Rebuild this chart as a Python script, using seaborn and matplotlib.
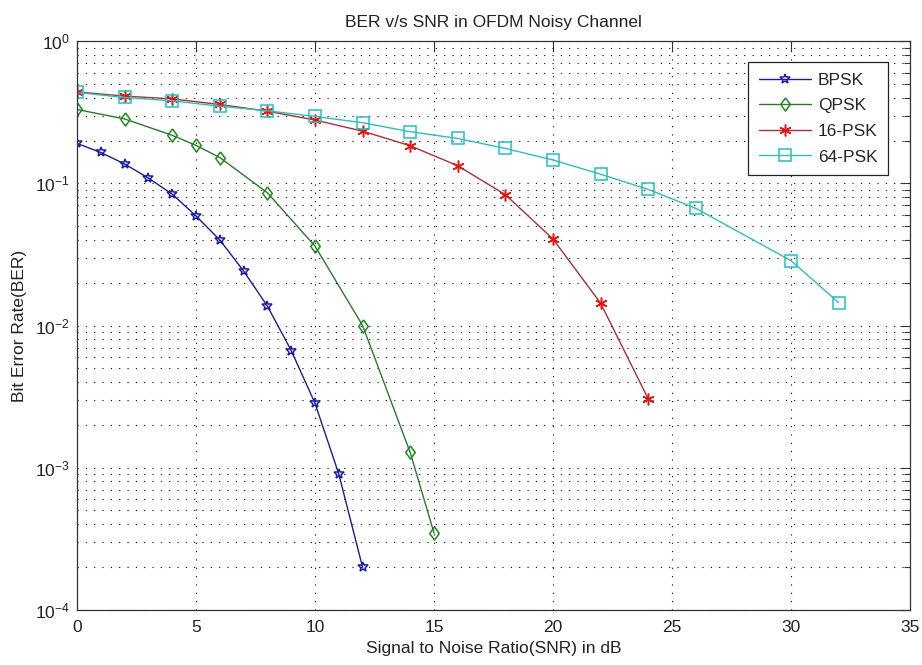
import numpy as np
import pandas as pd
import matplotlib
matplotlib.use("Agg")
import matplotlib.pyplot as plt
from matplotlib.ticker import LogLocator, FixedLocator, NullFormatter
import seaborn as sns

# SNR points (dB) and measured bit error rates for each modulation
snr_bpsk = [0, 1, 2, 3, 4, 5, 6, 7, 8, 9, 10, 11, 12]
ber_bpsk = [0.191, 0.165, 0.137, 0.109, 0.084, 0.059, 0.040, 0.0242,
            0.0137, 0.00667, 0.00284, 0.000902, 0.000199]

snr_qpsk = [0, 2, 4, 5, 6, 8, 10, 12, 14, 15]
ber_qpsk = [0.331, 0.284, 0.218, 0.185, 0.152, 0.0859, 0.0362, 0.0100,
            0.00128, 0.000347]

snr_16psk = [0, 2, 4, 6, 8, 10, 12, 14, 16, 18, 20, 22, 24]
ber_16psk = [0.440, 0.411, 0.393, 0.359, 0.322, 0.279, 0.233, 0.184,
             0.133, 0.0832, 0.0406, 0.01435, 0.00305]

snr_64psk = [0, 2, 4, 6, 8, 10, 12, 14, 16, 18, 20, 22, 24, 26, 30, 32]
ber_64psk = [0.436, 0.402, 0.381, 0.349, 0.324, 0.296, 0.267, 0.231,
             0.207, 0.176, 0.146, 0.116, 0.0907, 0.0667, 0.0286, 0.0145]

labels = ["BPSK", "QPSK", "16-PSK", "64-PSK"]
x_ticks = [0, 5, 10, 15, 20, 25, 30, 35]

sns.set_style("white")
plt.rcParams["font.family"] = ["Liberation Sans", "DejaVu Sans"]
plt.rcParams["mathtext.fontset"] = "custom"
plt.rcParams["mathtext.rm"] = "Liberation Sans"
plt.rcParams["mathtext.it"] = "Liberation Sans"

fig = plt.figure(figsize=(9.22, 6.65), dpi=100)
ax = fig.add_axes([0.0835, 0.083, 0.9035, 0.855])

# slightly tall open diamond
diamond = [(0, 1), (0.72, 0), (0, -1), (-0.72, 0), (0, 1)]

series = [
    (snr_bpsk, ber_bpsk, "#1c1ca8", "*", 7.5, dict(markerfacecolor="none")),
    (snr_qpsk, ber_qpsk, "#208a20", diamond, 9.5, dict(markerfacecolor="none")),
    (snr_16psk, ber_16psk, "#e01818", (6, 2, 0), 8.5, dict()),
    (snr_64psk, ber_64psk, "#22c0c0", "s", 8, dict(markerfacecolor="none")),
]
line_colors = ["#1c1c90", "#2a7a2a", "#a83030", "#30bcbc"]

for (xs, ys, mcol, mk, ms, extra), lab, lcol in zip(series, labels, line_colors):
    df = pd.DataFrame({"snr": xs, "ber": ys})
    sns.lineplot(data=df, x="snr", y="ber", ax=ax, color=lcol, linewidth=1.0,
                 marker=mk, markersize=ms, markeredgecolor=mcol,
                 markeredgewidth=1.1, label=lab, errorbar=None, **extra)

ax.set_yscale("log")
ax.set_xlim(0, 35)
ax.set_ylim(1e-4, 1e0)
ax.xaxis.set_major_locator(FixedLocator(x_ticks))
ax.yaxis.set_major_locator(LogLocator(base=10, numticks=10))
ax.yaxis.set_minor_locator(LogLocator(base=10, subs=np.arange(2, 10), numticks=20))
ax.yaxis.set_minor_formatter(NullFormatter())

grid_style = dict(color="black", linestyle=(0, (1, 6.5)), linewidth=0.8)
ax.grid(True, which="major", axis="both", **grid_style)
ax.grid(True, which="minor", axis="y", **grid_style)

ax.tick_params(which="both", direction="in", top=True, right=True,
               labelsize=12.5, colors="#333333", labelcolor="#222222")
ax.tick_params(which="major", length=7, width=0.8, pad=5)
ax.tick_params(axis="x", which="major", pad=7)
ax.tick_params(which="minor", length=4, width=0.8)
for sp in ax.spines.values():
    sp.set_visible(True)
    sp.set_color("#333333")
    sp.set_linewidth(0.9)

ax.set_title("BER v/s SNR in OFDM Noisy Channel", fontsize=12.5, color="#222222", pad=10)
ax.set_xlabel("Signal to Noise Ratio(SNR) in dB", fontsize=12.5, color="#222222", labelpad=5)
ax.set_ylabel("Bit Error Rate(BER)", fontsize=12.5, color="#222222", labelpad=6)

leg = ax.legend(loc="upper right", bbox_to_anchor=(0.9736, 0.963), fontsize=12.5,
                frameon=True, fancybox=False, edgecolor="#222222",
                handlelength=3.0, borderpad=0.6, labelspacing=0.6,
                handletextpad=0.4, borderaxespad=0)
leg.get_frame().set_linewidth(0.9)
leg.get_frame().set_facecolor("white")
leg.get_frame().set_alpha(1)

fig.savefig("out.png", dpi=100, facecolor="white")
